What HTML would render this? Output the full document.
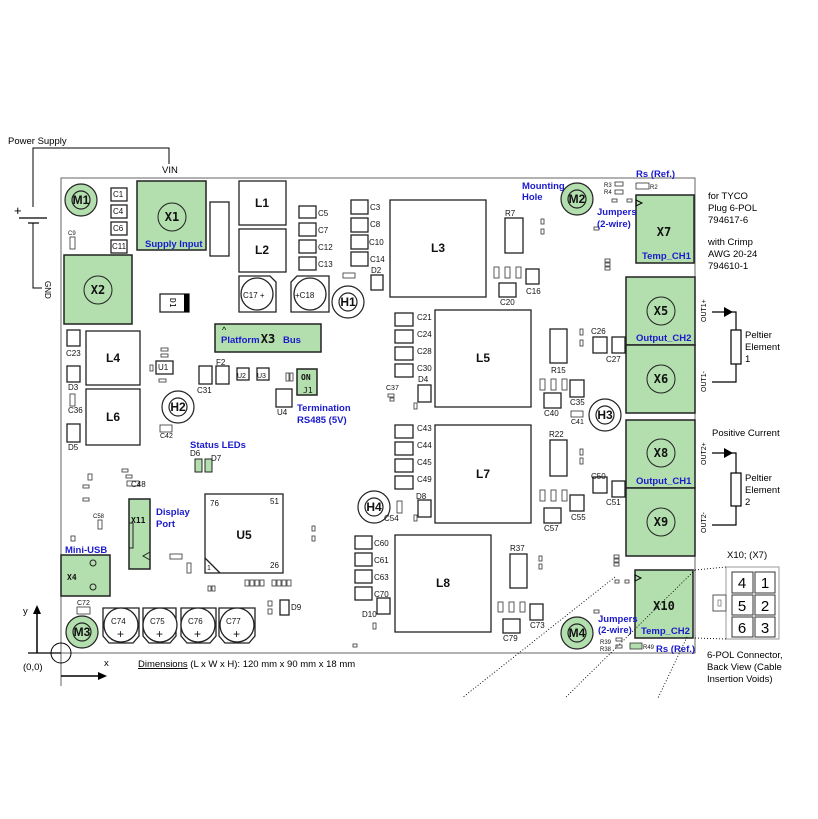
<!DOCTYPE html><html><head><style>
body{margin:0;background:#fff}
svg{display:block}
text{font-family:"Liberation Sans",sans-serif}
.m{font-family:"DejaVu Sans Mono","Liberation Mono",monospace;font-size:8px;fill:#111}
.L{font-family:"DejaVu Sans Mono",monospace;font-size:12px;font-weight:bold;fill:#111;text-anchor:middle}
.b{fill:#1a1acc;font-size:9.5px;font-weight:bold}
.k{fill:#000;font-size:9.5px}
.bx{fill:#fff;stroke:#222;stroke-width:1.3}
.g{fill:#b3deae;stroke:#222;stroke-width:1.5}
.s{fill:#fff;stroke:#333;stroke-width:0.8}
.t{font-size:4px;fill:#333;font-family:"Liberation Sans",sans-serif}
</style></head><body>
<svg width="818" height="819" viewBox="0 0 818 819" xmlns="http://www.w3.org/2000/svg">
<rect width="818" height="819" fill="#fff"/>
<!-- power supply -->
<text x="8" y="144" class="k">Power Supply</text>
<polyline points="33,207 33,148 169,148 169,164" fill="none" stroke="#000" stroke-width="1"/>
<text x="162" y="173" class="k" font-size="8">VIN</text>
<text x="14" y="215" font-size="13" fill="#000">+</text>
<line x1="19" y1="218" x2="47" y2="218" stroke="#000" stroke-width="1.2"/>
<line x1="28" y1="223" x2="39" y2="223" stroke="#000" stroke-width="1.2"/>
<polyline points="33,223 33,288 42,288" fill="none" stroke="#000"/>
<text transform="translate(45,281) rotate(90)" font-size="8" fill="#000">GND</text>
<!-- board -->
<polyline points="61,686 61,178 695,178 695,653 61,653" fill="none" stroke="#666" stroke-width="1"/>
<!-- axes -->
<line x1="37" y1="653" x2="37" y2="610" stroke="#000" stroke-width="1.5"/>
<polygon points="37,605 33,614 41,614" fill="#000"/>
<line x1="61" y1="676" x2="102" y2="676" stroke="#000" stroke-width="1.5"/>
<polygon points="107,676 98,672 98,680" fill="#000"/>
<line x1="28" y1="653" x2="61" y2="653" stroke="#000" stroke-width="1.2"/>
<circle cx="61" cy="653" r="10" fill="none" stroke="#000"/>
<text x="23" y="614" class="k" font-size="11">y</text>
<text x="104" y="666" class="k" font-size="10">x</text>
<text x="23" y="670" class="k">(0,0)</text>
<text x="138" y="667" class="k" font-size="10"><tspan text-decoration="underline">Dimensions</tspan> (L x W x H): 120 mm x 90 mm x 18 mm</text>

<!-- mounting holes -->
<g stroke="#222" stroke-width="1.2">
<circle cx="81" cy="200" r="16" fill="#b3deae"/><circle cx="81" cy="200" r="9" fill="#b3deae"/>
<circle cx="577" cy="199" r="16" fill="#b3deae"/><circle cx="577" cy="199" r="9" fill="#b3deae"/>
<circle cx="82" cy="632" r="16" fill="#b3deae"/><circle cx="82" cy="632" r="9" fill="#b3deae"/>
<circle cx="577" cy="633" r="16" fill="#b3deae"/><circle cx="577" cy="633" r="9" fill="#b3deae"/>
<circle cx="348" cy="302" r="16" fill="#fff"/><circle cx="348" cy="302" r="9" fill="#fff"/>
<circle cx="178" cy="407" r="16" fill="#fff"/><circle cx="178" cy="407" r="9" fill="#fff"/>
<circle cx="605" cy="415" r="16" fill="#fff"/><circle cx="605" cy="415" r="9" fill="#fff"/>
<circle cx="374" cy="507" r="16" fill="#fff"/><circle cx="374" cy="507" r="9" fill="#fff"/>
</g>
<g class="L" font-size="11">
<text x="81" y="204">M1</text><text x="577" y="203">M2</text><text x="82" y="636">M3</text><text x="577" y="637">M4</text>
<text x="348" y="306">H1</text><text x="178" y="411">H2</text><text x="605" y="419">H3</text><text x="374" y="511">H4</text>
</g>

<!-- green connectors -->
<rect x="137" y="181" width="69" height="69" class="g"/><circle cx="172" cy="217" r="14" fill="none" stroke="#222"/>
<text x="172" y="221" class="L">X1</text><text x="145" y="247" class="b">Supply Input</text>
<rect x="64" y="255" width="68" height="69" class="g"/><circle cx="98" cy="290" r="14" fill="none" stroke="#222"/>
<text x="98" y="294" class="L">X2</text>
<rect x="215" y="324" width="106" height="28" class="g"/>
<text x="221" y="343" class="b">Platform</text><text x="268" y="343" class="L">X3</text><text x="283" y="343" class="b">Bus</text>
<text x="222" y="333" font-size="9" fill="#000">^</text>
<rect x="297" y="369" width="20" height="26" class="g"/><text x="301" y="380" class="m" font-weight="bold">ON</text><text x="303" y="393" class="m" font-size="6">J1</text>
<rect x="129" y="499" width="21" height="70" class="g"/><text x="131" y="523" class="m" font-size="10" font-weight="bold">X11</text>
<rect x="129" y="523" width="4" height="25" fill="none" stroke="#222"/>
<polyline points="150,552 143,556 150,560" fill="none" stroke="#222"/>
<rect x="61" y="555" width="49" height="41" class="g"/><text x="67" y="580" class="m" font-size="10" font-weight="bold">X4</text>
<circle cx="93" cy="563" r="3" fill="none" stroke="#222"/><circle cx="93" cy="587" r="3" fill="none" stroke="#222"/>
<rect x="636" y="195" width="58" height="68" class="g"/><text x="664" y="236" class="L">X7</text><text x="642" y="259" class="b">Temp_CH1</text>
<polygon points="636,200 642,203 636,206" fill="none" stroke="#000"/>
<rect x="626" y="277" width="69" height="68" class="g"/><rect x="626" y="345" width="69" height="68" class="g"/>
<circle cx="661" cy="311" r="14" fill="none" stroke="#222"/><text x="661" y="315" class="L">X5</text><text x="636" y="341" class="b">Output_CH2</text>
<circle cx="661" cy="379" r="14" fill="none" stroke="#222"/><text x="661" y="383" class="L">X6</text>
<rect x="626" y="420" width="69" height="68" class="g"/><rect x="626" y="488" width="69" height="68" class="g"/>
<circle cx="661" cy="453" r="14" fill="none" stroke="#222"/><text x="661" y="457" class="L">X8</text><text x="636" y="484" class="b">Output_CH1</text>
<circle cx="661" cy="522" r="14" fill="none" stroke="#222"/><text x="661" y="526" class="L">X9</text>
<rect x="635" y="570" width="58" height="68" class="g"/><text x="664" y="610" class="L">X10</text><text x="641" y="634" class="b">Temp_CH2</text>
<polygon points="635,575 641,578 635,581" fill="none" stroke="#000"/>

<!-- caps column -->
<g class="bx">
<rect x="111" y="188" width="16" height="13"/><rect x="111" y="205" width="16" height="13"/><rect x="111" y="222" width="16" height="13"/><rect x="111" y="240" width="16" height="13"/>
<rect x="210" y="202" width="19" height="54"/>
<rect x="239" y="181" width="47" height="44"/><rect x="239" y="229" width="47" height="43"/>
<rect x="299" y="206" width="17" height="12"/><rect x="299" y="223" width="17" height="13"/><rect x="299" y="240" width="17" height="13"/><rect x="299" y="257" width="17" height="13"/>
<rect x="351" y="200" width="17" height="14"/><rect x="351" y="218" width="17" height="14"/><rect x="351" y="235" width="17" height="14"/><rect x="351" y="252" width="17" height="14"/>
<rect x="390" y="200" width="96" height="97"/>
<rect x="371" y="275" width="12" height="15"/>
<rect x="67" y="330" width="13" height="16"/><rect x="86" y="331" width="54" height="54"/>
<rect x="67" y="366" width="13" height="16"/><rect x="86" y="389" width="54" height="56"/><rect x="67" y="424" width="13" height="18"/>
<rect x="199" y="366" width="13" height="18"/><rect x="216" y="366" width="13" height="18"/>
<rect x="276" y="389" width="16" height="18"/>
<rect x="205" y="494" width="78" height="79"/>
<rect x="395" y="313" width="18" height="13"/><rect x="395" y="330" width="18" height="13"/><rect x="395" y="347" width="18" height="13"/><rect x="395" y="364" width="18" height="13"/>
<rect x="435" y="310" width="96" height="97"/><rect x="418" y="385" width="13" height="17"/>
<rect x="395" y="425" width="18" height="13"/><rect x="395" y="442" width="18" height="13"/><rect x="395" y="459" width="18" height="13"/><rect x="395" y="476" width="18" height="13"/>
<rect x="435" y="425" width="96" height="98"/><rect x="418" y="500" width="13" height="17"/>
<rect x="355" y="536" width="17" height="13"/><rect x="355" y="553" width="17" height="13"/><rect x="355" y="570" width="17" height="13"/><rect x="355" y="587" width="17" height="13"/>
<rect x="395" y="535" width="96" height="97"/><rect x="377" y="598" width="13" height="16"/>
<rect x="505" y="218" width="18" height="35"/><rect x="499" y="283" width="17" height="14"/><rect x="526" y="269" width="13" height="15"/>
<rect x="550" y="329" width="17" height="34"/><rect x="593" y="337" width="14" height="16"/><rect x="612" y="337" width="13" height="16"/>
<rect x="570" y="380" width="14" height="17"/><rect x="544" y="393" width="17" height="15"/>
<rect x="550" y="440" width="17" height="36"/><rect x="593" y="477" width="14" height="16"/><rect x="612" y="481" width="13" height="16"/>
<rect x="570" y="495" width="14" height="16"/><rect x="544" y="508" width="17" height="15"/>
<rect x="510" y="554" width="17" height="34"/><rect x="503" y="619" width="17" height="14"/><rect x="530" y="604" width="13" height="16"/>
<rect x="280" y="600" width="9" height="15"/>
<rect x="160" y="294" width="29" height="18"/>
<rect x="156" y="361" width="17" height="13"/><rect x="237" y="368" width="12" height="12"/><rect x="257" y="368" width="12" height="12"/>
</g>
<rect x="184" y="294" width="5" height="18" fill="#000"/>
<line x1="205" y1="558" x2="220" y2="573" stroke="#222" stroke-width="1.3"/>
<!-- small parts -->
<g class="s">
<rect x="70" y="237" width="5" height="12"/><rect x="343" y="273" width="12" height="5"/><rect x="70" y="394" width="5" height="12"/>
<rect x="160" y="425" width="12" height="7"/><rect x="161" y="348" width="7" height="3"/><rect x="161" y="354" width="7" height="3"/><rect x="150" y="365" width="3" height="6"/><rect x="159" y="379" width="7" height="3"/>
<rect x="286" y="373" width="3" height="8"/><rect x="290" y="373" width="3" height="8"/>
<rect x="388" y="394" width="6" height="3"/><rect x="390" y="398" width="4" height="3"/>
<rect x="541" y="219" width="3" height="5"/><rect x="541" y="229" width="3" height="5"/>
<rect x="494" y="267" width="5" height="11"/><rect x="505" y="267" width="5" height="11"/><rect x="516" y="267" width="5" height="11"/>
<rect x="594" y="227" width="5" height="3"/><rect x="605" y="259" width="5" height="3"/><rect x="605" y="263" width="5" height="3"/><rect x="605" y="267" width="5" height="3"/>
<rect x="615" y="182" width="8" height="4"/><rect x="615" y="190" width="8" height="4"/><rect x="636" y="183" width="13" height="6"/>
<rect x="612" y="199" width="5" height="3"/><rect x="627" y="199" width="5" height="3"/>
<rect x="580" y="329" width="3" height="6"/><rect x="580" y="340" width="3" height="6"/>
<rect x="540" y="379" width="5" height="11"/><rect x="551" y="379" width="5" height="11"/><rect x="562" y="379" width="5" height="11"/>
<rect x="571" y="411" width="12" height="6"/><rect x="580" y="449" width="3" height="6"/><rect x="580" y="458" width="3" height="6"/>
<rect x="540" y="490" width="5" height="11"/><rect x="551" y="490" width="5" height="11"/><rect x="562" y="490" width="5" height="11"/>
<rect x="414" y="403" width="3" height="6"/><rect x="414" y="515" width="3" height="6"/><rect x="397" y="501" width="5" height="12"/>
<rect x="539" y="556" width="3" height="5"/><rect x="539" y="564" width="3" height="5"/>
<rect x="614" y="555" width="5" height="3"/><rect x="614" y="559" width="5" height="3"/><rect x="614" y="563" width="5" height="3"/>
<rect x="615" y="580" width="4" height="3"/><rect x="625" y="580" width="4" height="3"/><rect x="594" y="610" width="5" height="3"/>
<rect x="616" y="638" width="6" height="3"/><rect x="616" y="645" width="6" height="3"/><rect x="630" y="643" width="12" height="6" fill="#b3deae"/>
<rect x="498" y="602" width="5" height="10"/><rect x="509" y="602" width="5" height="10"/><rect x="520" y="602" width="5" height="10"/>
<rect x="373" y="623" width="3" height="6"/><rect x="353" y="644" width="4" height="3"/>
<rect x="88" y="474" width="4" height="6"/><rect x="83" y="485" width="6" height="3"/><rect x="83" y="498" width="6" height="3"/>
<rect x="122" y="469" width="6" height="3"/><rect x="126" y="475" width="6" height="3"/><rect x="127" y="481" width="12" height="5"/>
<rect x="98" y="520" width="4" height="9"/><rect x="71" y="536" width="4" height="5"/>
<rect x="170" y="554" width="12" height="5"/><rect x="187" y="563" width="4" height="10"/>
<rect x="208" y="586" width="3" height="5"/><rect x="212" y="586" width="3" height="5"/>
<rect x="245" y="580" width="4" height="6"/><rect x="250" y="580" width="4" height="6"/><rect x="255" y="580" width="4" height="6"/><rect x="260" y="580" width="4" height="6"/>
<rect x="272" y="580" width="4" height="6"/><rect x="277" y="580" width="4" height="6"/><rect x="282" y="580" width="4" height="6"/><rect x="287" y="580" width="4" height="6"/>
<rect x="268" y="601" width="4" height="5"/><rect x="268" y="609" width="4" height="5"/>
<rect x="312" y="526" width="3" height="5"/><rect x="312" y="536" width="3" height="5"/>
<rect x="77" y="607" width="13" height="7"/>
</g>
<rect x="195" y="459" width="7" height="13" fill="#b3deae" stroke="#222"/><rect x="205" y="459" width="7" height="13" fill="#b3deae" stroke="#222"/>
<!-- electrolytics -->
<g fill="#fff" stroke="#222" stroke-width="1.3">
<polygon points="239,276 270,276 276,282 276,312 239,312"/><circle cx="257" cy="294" r="16"/>
<polygon points="297,276 329,276 329,312 291,312 291,282"/><circle cx="310" cy="294" r="16"/>
<polygon points="103,608 139,608 139,636 133,643 109,643 103,636"/><circle cx="121" cy="625" r="17"/>
<polygon points="143,608 176,608 176,636 170,643 149,643 143,636"/><circle cx="160" cy="625" r="17"/>
<polygon points="181,608 216,608 216,636 210,643 187,643 181,636"/><circle cx="198" cy="625" r="17"/>
<polygon points="219,608 255,608 255,636 249,643 225,643 219,636"/><circle cx="237" cy="625" r="17"/>
</g>
<g class="m">
<text x="243" y="298">C17 +</text><text x="295" y="298">+C18</text>
<text x="111" y="624">C74</text><text x="150" y="624">C75</text><text x="188" y="624">C76</text><text x="226" y="624">C77</text>
<text x="117" y="638" font-size="12">+</text><text x="156" y="638" font-size="12">+</text><text x="194" y="638" font-size="12">+</text><text x="233" y="638" font-size="12">+</text>
<text x="113" y="197">C1</text><text x="113" y="214">C4</text><text x="113" y="231">C6</text><text x="112" y="249">C11</text><text x="68" y="235" font-size="6">C9</text>
<text x="318" y="216">C5</text><text x="318" y="233">C7</text><text x="318" y="250">C12</text><text x="318" y="267">C13</text>
<text x="370" y="210">C3</text><text x="370" y="227">C8</text><text x="369" y="245">C10</text><text x="370" y="262">C14</text>
<text x="371" y="273">D2</text>
<text x="66" y="356">C23</text><text x="68" y="390">D3</text><text x="68" y="413">C36</text><text x="68" y="450">D5</text>
<text x="197" y="393">C31</text><text x="216" y="365">F2</text><text x="277" y="415">U4</text><text x="158" y="370">U1</text>
<text x="237" y="378" font-size="7">U2</text><text x="257" y="378" font-size="7">U3</text>
<text x="160" y="438" font-size="7">C42</text><text x="417" y="431">C43</text><text x="417" y="448">C44</text><text x="417" y="465">C45</text><text x="417" y="482">C49</text>
<text x="417" y="320">C21</text><text x="417" y="337">C24</text><text x="417" y="354">C28</text><text x="417" y="371">C30</text><text x="418" y="382">D4</text><text x="386" y="390" font-size="7">C37</text>
<text x="416" y="499">D8</text><text x="374" y="546">C60</text><text x="374" y="563">C61</text><text x="374" y="580">C63</text><text x="374" y="597">C70</text><text x="362" y="617">D10</text>
<text x="505" y="216">R7</text><text x="500" y="305">C20</text><text x="526" y="294">C16</text>
<text x="591" y="334">C26</text><text x="606" y="362">C27</text><text x="551" y="373">R15</text><text x="570" y="405">C35</text><text x="544" y="416">C40</text><text x="571" y="424" font-size="7">C41</text>
<text x="549" y="437">R22</text><text x="591" y="479">C50</text><text x="606" y="505">C51</text><text x="571" y="520">C55</text><text x="544" y="531">C57</text>
<text x="510" y="551">R37</text><text x="503" y="641">C79</text><text x="530" y="628">C73</text>
<text x="210" y="506">76</text><text x="270" y="504">51</text><text x="270" y="568">26</text><text x="207" y="570" font-size="7">1</text>
<text x="291" y="610">D9</text><text x="190" y="456">D6</text><text x="211" y="461">D7</text><text x="131" y="487">C48</text>
<text x="93" y="518" font-size="6">C58</text><text x="77" y="605" font-size="7">C72</text><text x="384" y="521" font-size="8">C54</text>
<text x="650" y="189" font-size="6">R2</text><text x="604" y="187" font-size="6">R3</text><text x="604" y="194" font-size="6">R4</text>
<text x="600" y="644" font-size="6">R39</text><text x="600" y="651" font-size="6">R38</text><text x="643" y="649" font-size="6">R49</text>
</g>
<g class="L">
<text x="262" y="207">L1</text><text x="262" y="254">L2</text><text x="438" y="252">L3</text><text x="113" y="362">L4</text><text x="113" y="421">L6</text>
<text x="483" y="362">L5</text><text x="483" y="478">L7</text><text x="443" y="587">L8</text><text x="244" y="539">U5</text>
</g>
<text transform="translate(170,298) rotate(90)" class="m" font-size="7">D1</text>
<!-- blue labels -->
<text x="297" y="411" class="b">Termination</text><text x="297" y="423" class="b">RS485 (5V)</text>
<text x="190" y="448" class="b">Status LEDs</text>
<text x="156" y="515" class="b">Display</text><text x="156" y="527" class="b">Port</text>
<text x="65" y="553" class="b">Mini-USB</text>
<text x="522" y="189" class="b">Mounting</text><text x="522" y="200" class="b">Hole</text>
<text x="636" y="177" class="b">Rs (Ref.)</text>
<text x="597" y="215" class="b">Jumpers</text><text x="597" y="227" class="b">(2-wire)</text>
<text x="598" y="622" class="b">Jumpers</text><text x="598" y="633" class="b">(2-wire)</text>
<text x="656" y="652" class="b">Rs (Ref.)</text>
<!-- right annotations -->
<g class="k">
<text x="708" y="199">for TYCO</text><text x="708" y="211">Plug 6-POL</text><text x="708" y="223">794617-6</text>
<text x="708" y="245">with Crimp</text><text x="708" y="257">AWG 20-24</text><text x="708" y="269">794610-1</text>
<text x="745" y="338">Peltier</text><text x="745" y="350">Element</text><text x="745" y="362">1</text>
<text x="712" y="436">Positive Current</text>
<text x="745" y="481">Peltier</text><text x="745" y="493">Element</text><text x="745" y="505">2</text>
<text x="727" y="558">X10; (X7)</text>
<text x="707" y="658">6-POL Connector,</text><text x="707" y="670">Back View (Cable</text><text x="707" y="682">Insertion Voids)</text>
</g>
<g font-size="7" fill="#000">
<text transform="translate(706,322) rotate(-90)">OUT1+</text><text transform="translate(706,392) rotate(-90)">OUT1-</text>
<text transform="translate(706,465) rotate(-90)">OUT2+</text><text transform="translate(706,533) rotate(-90)">OUT2-</text>
</g>
<g fill="none" stroke="#000" stroke-width="1.2">
<polyline points="712,312 736,312 736,382 712,382"/><rect x="731" y="330" width="10" height="34" fill="#fff"/>
<polyline points="712,453 736,453 736,525 712,525"/><rect x="731" y="473" width="10" height="33" fill="#fff"/>
</g>
<polygon points="733,312 724,307 724,317" fill="#000"/><polygon points="733,453 724,448 724,458" fill="#000"/>
<!-- connector view -->
<rect x="726" y="567" width="53" height="72" fill="#fff" stroke="#999"/>
<rect x="713" y="595" width="13" height="16" fill="#fff" stroke="#555"/><rect x="718" y="600" width="3" height="6" fill="none" stroke="#555" stroke-width="0.6"/>
<g fill="#fff" stroke="#333"><rect x="732" y="572" width="21" height="21"/><rect x="755" y="572" width="20" height="21"/>
<rect x="732" y="595" width="21" height="20"/><rect x="755" y="595" width="20" height="20"/>
<rect x="732" y="617" width="21" height="20"/><rect x="755" y="617" width="20" height="20"/></g>
<g font-size="15" fill="#000" text-anchor="middle"><text x="742" y="588">4</text><text x="765" y="588">1</text><text x="742" y="611">5</text><text x="765" y="611">2</text><text x="742" y="633">6</text><text x="765" y="633">3</text></g>
<g stroke="#000" stroke-dasharray="1,2" stroke-width="0.9">
<line x1="695" y1="570" x2="726" y2="567"/><line x1="695" y1="638" x2="726" y2="639"/>
<line x1="615" y1="577" x2="462" y2="698"/><line x1="695" y1="570" x2="565" y2="698"/><line x1="687" y1="637" x2="658" y2="698"/>
</g>
</svg>
</body></html>
